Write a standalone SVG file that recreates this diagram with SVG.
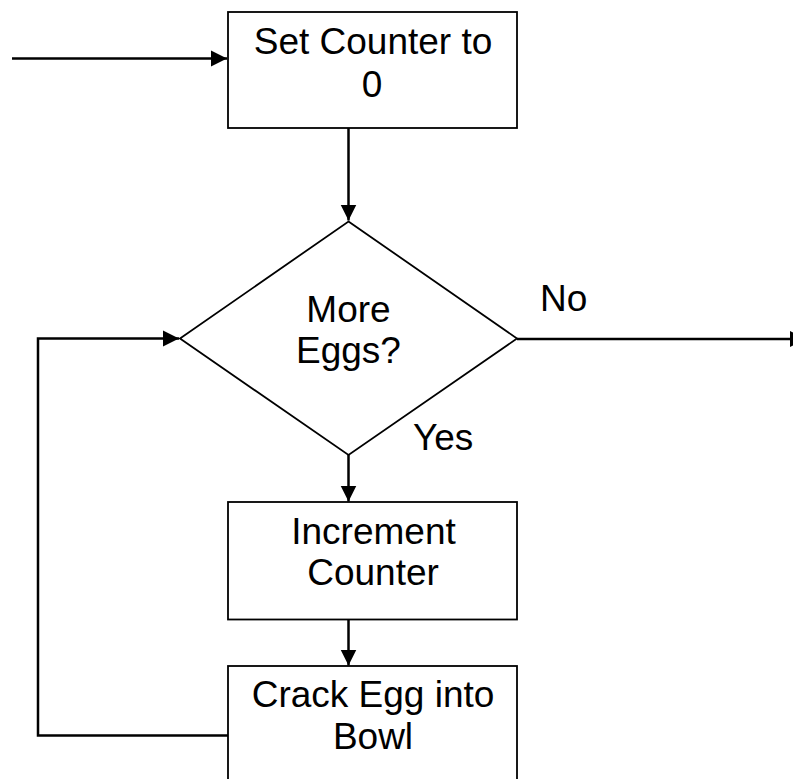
<svg xmlns="http://www.w3.org/2000/svg" width="793" height="779" viewBox="0 0 793 779">
  <style>
    .shape { fill: #ffffff; stroke: #000000; stroke-width: 1.8; }
    .conn { fill: none; stroke: #000000; stroke-width: 2.5; }
    .lbl { font-family: "Liberation Sans", Arial, sans-serif; font-size: 37px; fill: #000000; }
    .mid { text-anchor: middle; }
  </style>
  <defs>
    <marker id="arrow" markerUnits="userSpaceOnUse" markerWidth="17" markerHeight="17" refX="16" refY="8.5" orient="auto" viewBox="0 0 17 17">
      <path d="M0,0.5 L16,8.5 L0,16.5 z" fill="#000000"/>
    </marker>
  </defs>
  <rect width="793" height="779" fill="#ffffff"/>

  <g id="connectors">
    <line class="conn" x1="12" y1="58.5" x2="227" y2="58.5" marker-end="url(#arrow)"/>
    <line class="conn" x1="348.5" y1="128" x2="348.5" y2="220.5" marker-end="url(#arrow)"/>
    <line class="conn" x1="517" y1="339" x2="806" y2="339" marker-end="url(#arrow)"/>
    <line class="conn" x1="348.5" y1="455" x2="348.5" y2="501.5" marker-end="url(#arrow)"/>
    <line class="conn" x1="348.5" y1="619.5" x2="348.5" y2="665.5" marker-end="url(#arrow)"/>
    <polyline class="conn" points="228,735.5 38,735.5 38,338.5 179,338.5" marker-end="url(#arrow)"/>
  </g>

  <g id="set-counter">
    <rect class="shape" x="228" y="12" width="289" height="116"/>
    <text class="lbl mid" x="373" y="53.5">Set Counter to</text>
    <text class="lbl mid" x="372" y="96.5">0</text>
  </g>

  <g id="more-eggs">
    <polygon class="shape" points="348.5,221.5 517,338.5 348.5,455 180,338.5"/>
    <text class="lbl mid" x="348.5" y="321.5">More</text>
    <text class="lbl mid" x="348.5" y="363">Eggs?</text>
  </g>

  <g id="increment-counter">
    <rect class="shape" x="228" y="502" width="289" height="117.5"/>
    <text class="lbl mid" x="373.5" y="543.5">Increment</text>
    <text class="lbl mid" x="373" y="585">Counter</text>
  </g>

  <g id="crack-egg">
    <rect class="shape" x="228" y="666" width="289" height="130"/>
    <text class="lbl mid" x="373" y="706.5">Crack Egg into</text>
    <text class="lbl mid" x="373" y="748.5">Bowl</text>
  </g>

  <g id="labels">
    <text class="lbl" x="540" y="310.5">No</text>
    <text class="lbl" x="413" y="450">Yes</text>
  </g>
</svg>
